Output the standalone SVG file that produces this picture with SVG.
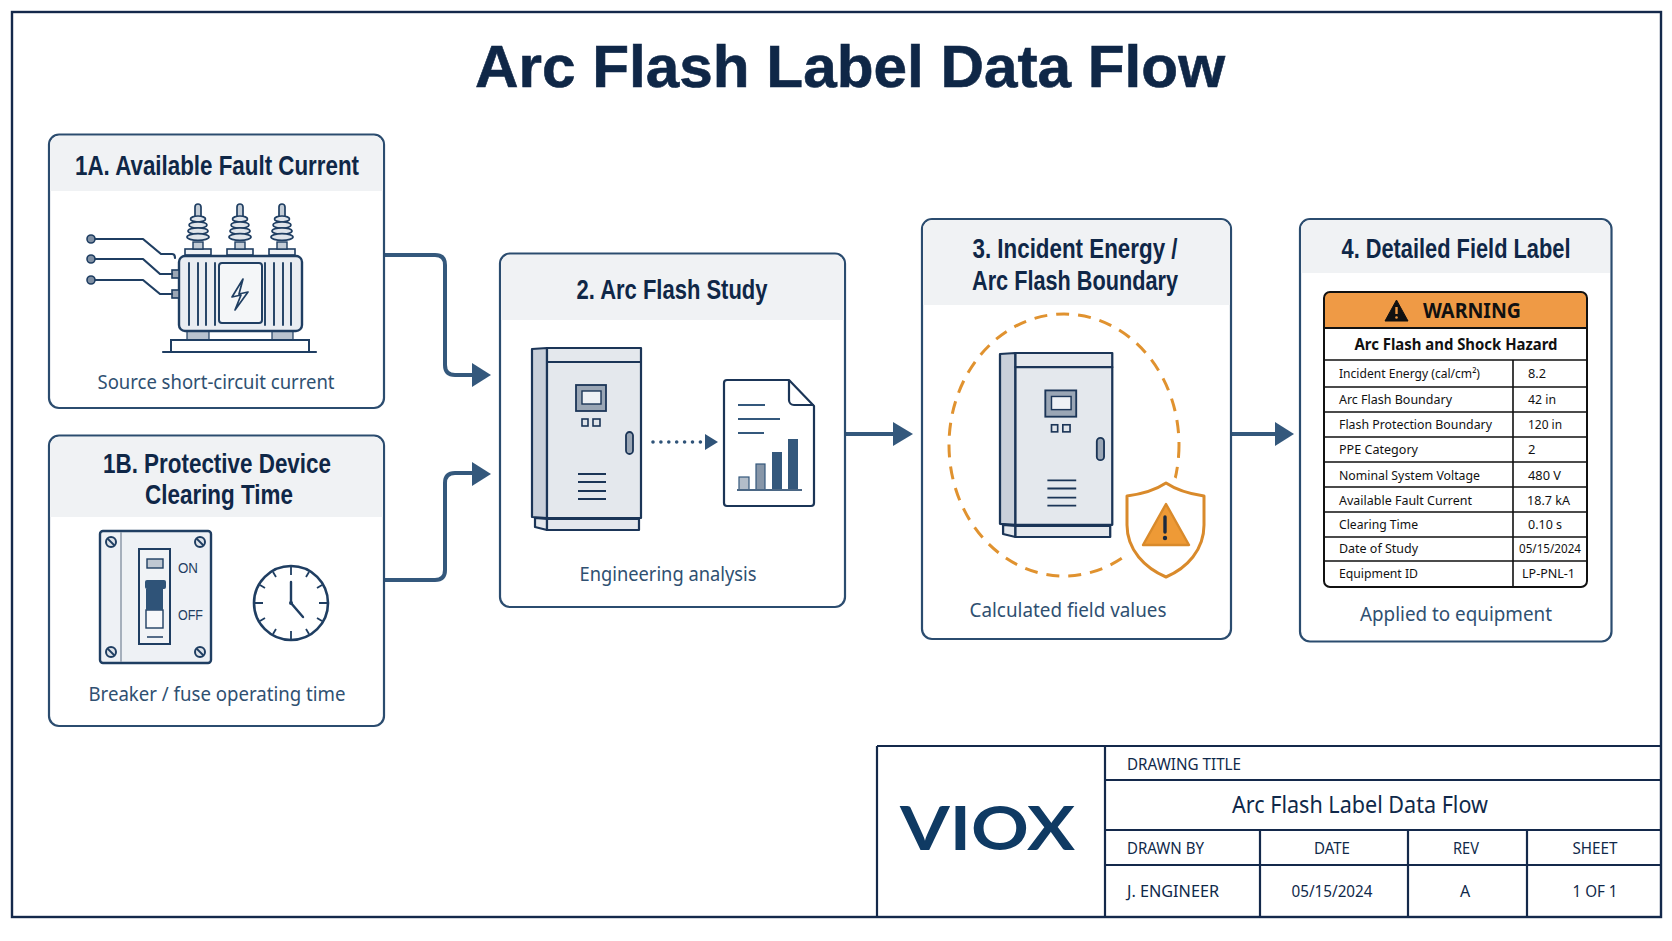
<svg xmlns="http://www.w3.org/2000/svg" xmlns:xlink="http://www.w3.org/1999/xlink" width="1672" height="941" viewBox="0 0 1672 941">
<style>
text{font-family:"Liberation Sans",Arial,sans-serif}
.hd{font-weight:700;font-size:27px;fill:#0f2747}
.cap{font-family:"Noto Sans","Open Sans",sans-serif;font-size:19.5px;fill:#2f5071}
.card{fill:#fff;stroke:#2b4c6f;stroke-width:2.2}
.band{fill:#f0f2f4}
.ln{fill:none;stroke:#1f3e62;stroke-width:2.2;stroke-linecap:round;stroke-linejoin:round}
.thin{fill:none;stroke:#1f3e62;stroke-width:1.9;stroke-linecap:round}
.metal{fill:#e4e8ed;stroke:#1b3557;stroke-width:2.2;stroke-linejoin:round}
.flow{fill:none;stroke:#34587c;stroke-width:4;stroke-linejoin:round}
.head{fill:#34587c}
.lab{font-family:"Noto Sans","Open Sans",sans-serif;font-size:13px;fill:#111}
.val{font-family:"Noto Sans","Open Sans",sans-serif;font-size:13px;fill:#111}
.strong{font-family:"Noto Sans","Open Sans",sans-serif;font-weight:700;fill:#111}
.grid{stroke:#111;stroke-width:1.6;fill:none}
.tb{stroke:#14294b;stroke-width:2.2;fill:none}
.tbt{font-family:"Noto Sans","Open Sans",sans-serif;font-size:16px;fill:#10294a}
</style>
<defs>
<!-- steel enclosure drawn from its top-left corner -->
<g id="cabinet">
<path class="metal" d="M0,1 15,0V170L0,169Z" style="fill:#c9d0da"/>
<rect class="metal" x="15" y="0" width="94" height="14"/>
<rect class="metal" x="15" y="14" width="94" height="156"/>
<path class="metal" d="M3,170 15,171V182L3,179Z"/>
<rect class="metal" x="15" y="171" width="92" height="11"/>
<rect x="44" y="37" width="30" height="26" fill="#9aa6b5" stroke="#1b3557" stroke-width="1.8"/>
<rect x="50" y="43" width="19" height="13" fill="#eef1f5" stroke="#1b3557" stroke-width="1.4"/>
<rect x="50" y="71" width="6" height="7" fill="#dfe4ea" stroke="#1b3557" stroke-width="1.6"/>
<rect x="61" y="71" width="7" height="7" fill="#dfe4ea" stroke="#1b3557" stroke-width="1.6"/>
<rect x="94" y="84" width="7" height="22" rx="3.5" fill="#9aa6b5" stroke="#1b3557" stroke-width="1.8"/>
<path d="M46,126H74M46,134H74M46,143H74M46,151H74" stroke="#1b3557" stroke-width="1.8" fill="none"/>
</g>
<!-- porcelain bushing, origin at the base centre -->
<g id="bushing">
<rect x="-13" y="-6" width="26" height="6" fill="#eef1f5" stroke="#1f3e62" stroke-width="1.6"/>
<rect x="-5" y="-13" width="10" height="7" fill="#c3ccd6" stroke="#1f3e62" stroke-width="1.4"/>
<rect x="-3" y="-51" width="6" height="18" rx="3" fill="#c3ccd6" stroke="#1f3e62" stroke-width="1.7"/>
<g fill="#dfe4ea" stroke="#1f3e62" stroke-width="1.7">
<ellipse cy="-36" rx="7.500" ry="3"/>
<ellipse cy="-30" rx="9" ry="3.200"/>
<ellipse cy="-24" rx="10" ry="3.200"/>
<ellipse cy="-18" rx="11" ry="3.400"/>
</g>
</g>
<g id="screw"><circle r="5" fill="#dfe4ea" stroke="#1f3e62" stroke-width="2"/><path d="M-3.500,-3.500 3.500,3.500" stroke="#1f3e62" stroke-width="1.800"/></g>
</defs>
<rect width="1672" height="941" fill="#fff"/>
<rect id="frame" x="12" y="12" width="1649" height="905" fill="none" stroke="#14294b" stroke-width="2.400"/>
<text id="title" x="850" y="87" text-anchor="middle" font-size="59" font-weight="700" fill="#0f2747" stroke="#0f2747" stroke-width="0.6" textLength="750" lengthAdjust="spacingAndGlyphs">Arc Flash Label Data Flow</text>

<g id="connectors">
<path class="flow" d="M384,255H435Q445,255 445,265V365Q445,375 455,375H474"/>
<path class="head" d="M472,363 491,375 472,387Z"/>
<path class="flow" d="M384,580H435Q445,580 445,570V483Q445,473 455,473H474"/>
<path class="head" d="M472,462 491,474 472,486Z"/>
<path class="flow" d="M845,434H895"/>
<path class="head" d="M893,422 913,434 893,446Z"/>
<path class="flow" d="M1231,434H1277"/>
<path class="head" d="M1275,422 1294,434 1275,446Z"/>
</g>

<g id="node-1a">
<rect class="card" x="49" y="134.500" width="335" height="273.500" rx="10"/>
<path class="band" d="M50,191V145a9,9 0 0 1 9,-9H374a9,9 0 0 1 9,9V191Z"/>
<text class="hd" x="217" y="175" text-anchor="middle" textLength="284" lengthAdjust="spacingAndGlyphs">1A. Available Fault Current</text>
<use xlink:href="#bushing" href="#bushing" x="198" y="255"/>
<use xlink:href="#bushing" href="#bushing" x="240" y="255"/>
<use xlink:href="#bushing" href="#bushing" x="282" y="255"/>
<rect x="187" y="331" width="22" height="9" fill="#b9c3cf" stroke="#1f3e62" stroke-width="1.200"/>
<rect x="272" y="331" width="21" height="9" fill="#b9c3cf" stroke="#1f3e62" stroke-width="1.200"/>
<rect x="171" y="340" width="138" height="12" fill="#fff" stroke="#1f3e62" stroke-width="2"/>
<path class="ln" d="M163,352H316"/>
<rect x="179" y="256" width="123" height="75" rx="6" fill="#e9edf2" stroke="#1f3e62" stroke-width="2.400"/>
<path class="thin" d="M189,263V325M198,263V325M206,263V325M215,263V325M265,263V325M274,263V325M283,263V325M291,263V325"/>
<rect x="219" y="263" width="43" height="60" rx="3" fill="#f4f6f8" stroke="#1f3e62" stroke-width="2"/>
<path d="M243,279 232,297 241,295 235,310 248,292 239,294Z" fill="#f4f6f8" stroke="#1f3e62" stroke-width="1.700" stroke-linejoin="round"/>
<rect x="172" y="270" width="7" height="8" fill="#9aa6b5" stroke="#1f3e62" stroke-width="1.600"/>
<rect x="172" y="290" width="7" height="8" fill="#9aa6b5" stroke="#1f3e62" stroke-width="1.600"/>
<path class="ln" d="M91,239H143L161,254H172Q175,254 175,258M91,259H143L160,274H172M91,280H143L160,294H172"/>
<circle cx="91" cy="239" r="4" fill="#7f8fa3" stroke="#1f3e62" stroke-width="1.600"/>
<circle cx="91" cy="259" r="4" fill="#7f8fa3" stroke="#1f3e62" stroke-width="1.600"/>
<circle cx="91" cy="280" r="4" fill="#7f8fa3" stroke="#1f3e62" stroke-width="1.600"/>
<text class="cap" x="216" y="389" text-anchor="middle" textLength="237" lengthAdjust="spacingAndGlyphs">Source short-circuit current</text>
</g>

<g id="node-1b">
<rect class="card" x="49" y="435.500" width="335" height="290.500" rx="10"/>
<path class="band" d="M50,517V446a9,9 0 0 1 9,-9H374a9,9 0 0 1 9,9V517Z"/>
<text class="hd" x="217" y="473" text-anchor="middle" textLength="228" lengthAdjust="spacingAndGlyphs">1B. Protective Device</text>
<text class="hd" x="219" y="504" text-anchor="middle" textLength="148" lengthAdjust="spacingAndGlyphs">Clearing Time</text>
<rect x="100" y="531" width="111" height="132" rx="3" fill="#eef1f5" stroke="#1f3e62" stroke-width="2.400"/>
<path d="M121,532V662" stroke="#8c99a9" stroke-width="1.500"/>
<use xlink:href="#screw" href="#screw" x="111" y="542"/>
<use xlink:href="#screw" href="#screw" x="200" y="542"/>
<use xlink:href="#screw" href="#screw" x="111" y="652"/>
<use xlink:href="#screw" href="#screw" x="200" y="652"/>
<rect x="139" y="549" width="31" height="95" fill="#f1f3f6" stroke="#1f3e62" stroke-width="2"/>
<rect x="147" y="559" width="16" height="9" fill="#c0c8d2" stroke="#1f3e62" stroke-width="1.400"/>
<rect x="146" y="610" width="17" height="18" fill="#f7f8fa" stroke="#1f3e62" stroke-width="1.400"/>
<rect x="146" y="589" width="17" height="21" fill="#2f5378"/>
<rect x="145" y="580" width="21" height="9" rx="2" fill="#2f5378"/>
<path d="M147,637H163" stroke="#1f3e62" stroke-width="1.500"/>
<text x="178" y="573" font-size="14" fill="#1f3e62" textLength="20" lengthAdjust="spacingAndGlyphs">ON</text>
<text x="178" y="620" font-size="14" fill="#1f3e62" textLength="25" lengthAdjust="spacingAndGlyphs">OFF</text>
<g transform="translate(291 603)">
<circle r="37" fill="#fff" stroke="#1f3e62" stroke-width="2.600"/>
<path d="M0,-36V-28M18,-31 15,-26M31,-18 26,-15M36,0H28M31,18 26,15M18,31 15,26M0,36V28M-18,31 -15,26M-31,18 -26,15M-36,0H-28M-31,-18 -26,-15M-18,-31 -15,-26" stroke="#1f3e62" stroke-width="1.800" fill="none"/>
<path d="M0,-21V0L12,14" stroke="#1f3e62" stroke-width="2.400" fill="none" stroke-linecap="round"/>
<circle r="2" fill="#1f3e62"/>
</g>
<text class="cap" x="217" y="701" text-anchor="middle" textLength="257" lengthAdjust="spacingAndGlyphs">Breaker / fuse operating time</text>
</g>

<g id="node-2">
<rect class="card" x="500" y="253.500" width="345" height="353.500" rx="10"/>
<path class="band" d="M501,320V264a9,9 0 0 1 9,-9H835a9,9 0 0 1 9,9V320Z"/>
<text class="hd" x="672" y="299" text-anchor="middle" textLength="191" lengthAdjust="spacingAndGlyphs">2. Arc Flash Study</text>
<use xlink:href="#cabinet" href="#cabinet" x="532" y="348"/>
<path d="M653,442H701" stroke="#2f5378" stroke-width="3.600" stroke-linecap="round" stroke-dasharray="0 7.900" fill="none"/>
<path d="M705,434 718,442 705,450Z" fill="#2f5378"/>
<path d="M727,380H789L814,406V503a3,3 0 0 1 -3,3H727a3,3 0 0 1 -3,-3V383a3,3 0 0 1 3,-3Z" fill="#fff" stroke="#1b3557" stroke-width="2.200" stroke-linejoin="round"/>
<path d="M789,380V400a5,5 0 0 0 5,5H814" fill="none" stroke="#1b3557" stroke-width="2.200"/>
<path d="M738,405H765M738,419H780M738,433H764" stroke="#34587c" stroke-width="1.800" fill="none"/>
<rect x="739" y="477" width="10" height="13" fill="#b3bdc9" stroke="#34587c" stroke-width="1.200"/>
<rect x="756" y="464" width="9" height="26" fill="#8796a8" stroke="#34587c" stroke-width="1.200"/>
<rect x="772" y="452" width="10" height="38" fill="#34587c"/>
<rect x="788" y="439" width="10" height="51" fill="#34587c"/>
<path d="M737,490H802" stroke="#4b6785" stroke-width="1.800"/>
<text class="cap" x="668" y="581" text-anchor="middle" textLength="177" lengthAdjust="spacingAndGlyphs">Engineering analysis</text>
</g>

<g id="node-3">
<rect class="card" x="922" y="219" width="309" height="420" rx="10"/>
<path class="band" d="M923,305V229a9,9 0 0 1 9,-9H1221a9,9 0 0 1 9,9V305Z"/>
<text class="hd" x="1075" y="258" text-anchor="middle" textLength="205" lengthAdjust="spacingAndGlyphs">3. Incident Energy /</text>
<text class="hd" x="1075" y="290" text-anchor="middle" textLength="206" lengthAdjust="spacingAndGlyphs">Arc Flash Boundary</text>
<ellipse cx="1064" cy="445" rx="115" ry="131" fill="none" stroke="#e0922f" stroke-width="3" stroke-dasharray="13 9"/>
<use xlink:href="#cabinet" href="#cabinet" transform="translate(1000 353) scale(1.030 1.011)"/>
<path d="M1166,483C1154,491 1142,494 1127,496V525C1127,550 1145,568 1166,577 1187,568 1204,550 1204,525V496C1190,494 1178,491 1166,483Z" fill="#fff" stroke="#fff" stroke-width="18" stroke-linejoin="round"/>
<path d="M1166,483C1154,491 1142,494 1127,496V525C1127,550 1145,568 1166,577 1187,568 1204,550 1204,525V496C1190,494 1178,491 1166,483Z" fill="#fff" stroke="#d98a2b" stroke-width="3" stroke-linejoin="round"/>
<path d="M1166,504 1189,545H1143Z" fill="#ee9a36" stroke="#d98a2b" stroke-width="2.400" stroke-linejoin="round"/>
<path d="M1165,517V532" stroke="#1b2a3f" stroke-width="3.400" stroke-linecap="round"/>
<circle cx="1165" cy="538" r="2.200" fill="#1b2a3f"/>
<text class="cap" x="1068" y="617" text-anchor="middle" textLength="197" lengthAdjust="spacingAndGlyphs">Calculated field values</text>
</g>

<g id="node-4">
<rect class="card" x="1300" y="219" width="311.500" height="422.500" rx="10"/>
<path class="band" d="M1301,273V229a9,9 0 0 1 9,-9H1601a9,9 0 0 1 9,9V273Z"/>
<text class="hd" x="1456" y="258" text-anchor="middle" textLength="229" lengthAdjust="spacingAndGlyphs">4. Detailed Field Label</text>
<path d="M1324,328V298a6,6 0 0 1 6,-6H1581a6,6 0 0 1 6,6V328Z" fill="#ef9a45"/>
<rect x="1324" y="292" width="263" height="295" rx="6" class="grid" style="stroke-width:2"/>
<path class="grid" d="M1324,328H1587" style="stroke-width:2"/>
<path class="grid" d="M1324,360H1587M1324,387H1587M1324,412H1587M1324,437H1587M1324,462H1587M1324,487H1587M1324,512H1587M1324,537H1587M1324,561H1587M1513,360V587"/>
<path d="M1396.500,300 1408,321H1385Z" fill="#111" stroke="#111" stroke-linejoin="round"/>
<path d="M1396.500,307V314" stroke="#ef9a45" stroke-width="2.400"/>
<circle cx="1396.500" cy="317.500" r="1.300" fill="#ef9a45"/>
<text class="strong" x="1472" y="318" text-anchor="middle" font-size="22" textLength="98" lengthAdjust="spacingAndGlyphs">WARNING</text>
<text class="strong" x="1456" y="350" text-anchor="middle" font-size="16" textLength="203" lengthAdjust="spacingAndGlyphs">Arc Flash and Shock Hazard</text>
<text class="lab" x="1339" y="378" textLength="141" lengthAdjust="spacingAndGlyphs">Incident Energy (cal/cm²)</text>
<text class="lab" x="1339" y="404" textLength="113" lengthAdjust="spacingAndGlyphs">Arc Flash Boundary</text>
<text class="lab" x="1339" y="429" textLength="153" lengthAdjust="spacingAndGlyphs">Flash Protection Boundary</text>
<text class="lab" x="1339" y="454" textLength="79" lengthAdjust="spacingAndGlyphs">PPE Category</text>
<text class="lab" x="1339" y="480" textLength="141" lengthAdjust="spacingAndGlyphs">Nominal System Voltage</text>
<text class="lab" x="1339" y="505" textLength="133" lengthAdjust="spacingAndGlyphs">Available Fault Current</text>
<text class="lab" x="1339" y="529" textLength="79" lengthAdjust="spacingAndGlyphs">Clearing Time</text>
<text class="lab" x="1339" y="553" textLength="79" lengthAdjust="spacingAndGlyphs">Date of Study</text>
<text class="lab" x="1339" y="578" textLength="79" lengthAdjust="spacingAndGlyphs">Equipment ID</text>
<text class="val" x="1528" y="378" textLength="18" lengthAdjust="spacingAndGlyphs">8.2</text>
<text class="val" x="1528" y="404" textLength="28" lengthAdjust="spacingAndGlyphs">42 in</text>
<text class="val" x="1528" y="429" textLength="34" lengthAdjust="spacingAndGlyphs">120 in</text>
<text class="val" x="1528" y="454">2</text>
<text class="val" x="1528" y="480" textLength="33" lengthAdjust="spacingAndGlyphs">480 V</text>
<text class="val" x="1527" y="505" textLength="43" lengthAdjust="spacingAndGlyphs">18.7 kA</text>
<text class="val" x="1528" y="529" textLength="34" lengthAdjust="spacingAndGlyphs">0.10 s</text>
<text class="val" x="1519" y="553" textLength="62" lengthAdjust="spacingAndGlyphs">05/15/2024</text>
<text class="val" x="1522" y="578" textLength="53" lengthAdjust="spacingAndGlyphs">LP-PNL-1</text>
<text class="cap" x="1456" y="621" text-anchor="middle" textLength="192" lengthAdjust="spacingAndGlyphs">Applied to equipment</text>
</g>

<g id="title-block">
<path class="tb" d="M877,746H1661M877,746V917M1105,746V917M1105,780H1661M1105,830H1661M1105,865H1661M1260,830V917M1408,830V917M1527,830V917"/>
<text x="900" y="850" font-size="61" font-weight="700" fill="#0f3a63" textLength="175" lengthAdjust="spacingAndGlyphs" style="font-family:Lato,'Noto Sans',sans-serif">VIOX</text>
<text class="tbt" x="1127" y="770" textLength="114" lengthAdjust="spacingAndGlyphs">DRAWING TITLE</text>
<text class="tbt" x="1360" y="813" text-anchor="middle" style="font-size:23px" textLength="256" lengthAdjust="spacingAndGlyphs">Arc Flash Label Data Flow</text>
<text class="tbt" x="1127" y="854" textLength="77" lengthAdjust="spacingAndGlyphs">DRAWN BY</text>
<text class="tbt" x="1332" y="854" text-anchor="middle" textLength="36" lengthAdjust="spacingAndGlyphs">DATE</text>
<text class="tbt" x="1466" y="854" text-anchor="middle" textLength="26" lengthAdjust="spacingAndGlyphs">REV</text>
<text class="tbt" x="1595" y="854" text-anchor="middle" textLength="45" lengthAdjust="spacingAndGlyphs">SHEET</text>
<text class="tbt" x="1127" y="897" textLength="92" lengthAdjust="spacingAndGlyphs">J. ENGINEER</text>
<text class="tbt" x="1332" y="897" text-anchor="middle" textLength="81" lengthAdjust="spacingAndGlyphs">05/15/2024</text>
<text class="tbt" x="1465" y="897" text-anchor="middle">A</text>
<text class="tbt" x="1595" y="897" text-anchor="middle" textLength="45" lengthAdjust="spacingAndGlyphs">1 OF 1</text>
</g>
</svg>
